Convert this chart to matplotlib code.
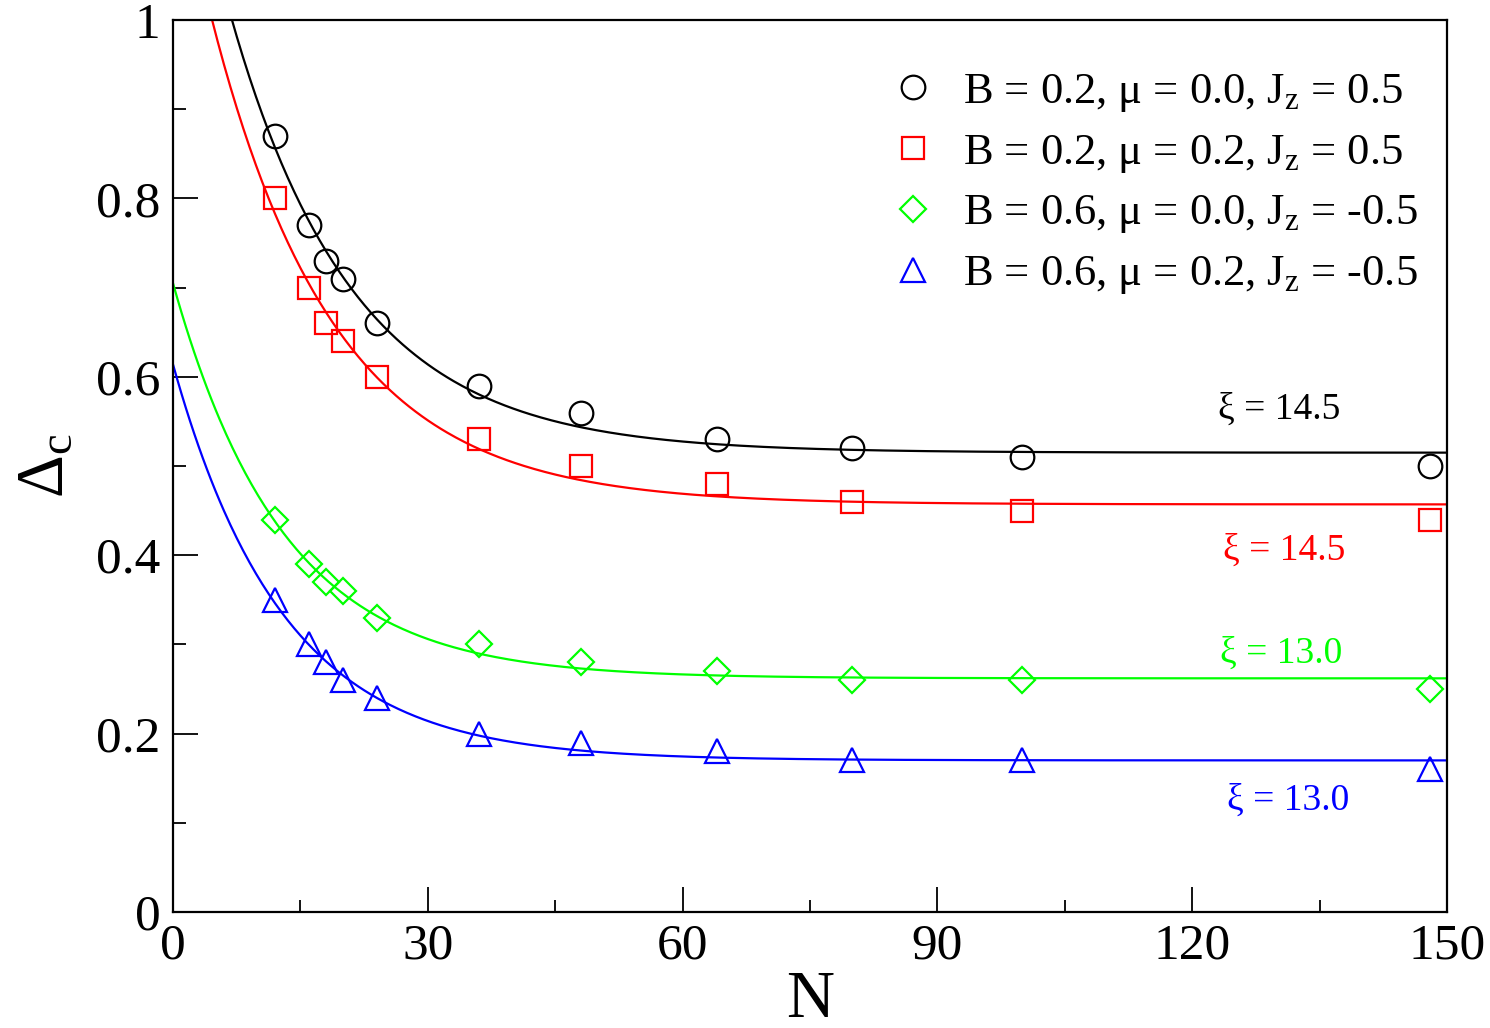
import numpy as np
import matplotlib
matplotlib.use('Agg')
import matplotlib.pyplot as plt
import matplotlib.ticker as tkr

#----------------------- datos -----------------------------------
N = [12, 16, 18, 20, 24, 36, 48, 64, 80, 100, 148]

gap_b02_mu00 = [0.87, 0.77, 0.73, 0.71, 0.66, 0.59, 0.56, 0.53, 0.52, 0.51, 0.50]
gap_b02_mu02 = [0.80, 0.70, 0.66, 0.64, 0.60, 0.53, 0.50, 0.48, 0.46, 0.45, 0.44]
gap_b06_mu00 = [0.44, 0.39, 0.37, 0.36, 0.33, 0.30, 0.28, 0.27, 0.26, 0.26, 0.25]
gap_b06_mu02 = [0.35, 0.30, 0.28, 0.26, 0.24, 0.20, 0.19, 0.18, 0.17, 0.17, 0.16]

# ajuste exponencial: delta_inf + A*exp(-N/xi)
delta_inf = [0.515, 0.457, 0.262, 0.170]
amplitud = [0.783, 0.746, 0.443, 0.444]
xi = [14.5, 14.5, 13.0, 13.0]

etiquetas = [r'B = 0.2, μ = 0.0, J$_\mathregular{z}$ = 0.5',
             r'B = 0.2, μ = 0.2, J$_\mathregular{z}$ = 0.5',
             r'B = 0.6, μ = 0.0, J$_\mathregular{z}$ = -0.5',
             r'B = 0.6, μ = 0.2, J$_\mathregular{z}$ = -0.5']

#----------------------- estilo -----------------------------------
plt.rcParams['font.family'] = 'Liberation Serif'
plt.rcParams['mathtext.fontset'] = 'custom'
plt.rcParams['mathtext.rm'] = 'Liberation Serif'
plt.rcParams['mathtext.it'] = 'Liberation Serif'

colores = ['black', '#ff0000', '#00ff00', '#0000ff']
marcadores = ['o', 's', 'D', '^']
msizes = [17, 16.5, 13, 17]
pos_xi = [(130.3, 0.563), (130.8, 0.405), (130.5, 0.290), (131.3, 0.125)]

fig = plt.figure(figsize=(14.9, 10.28), dpi=100)
ax = fig.add_axes([0.1161, 0.1128, 0.855, 0.8677])

x_fit = np.linspace(0, 150, 600)
datos = [gap_b02_mu00, gap_b02_mu02, gap_b06_mu00, gap_b06_mu02]
for k in range(4):
    y_fit = delta_inf[k] + amplitud[k] * np.exp(-x_fit / xi[k])
    ax.plot(x_fit, y_fit, '-', color=colores[k], lw=1.6)
    ax.plot(N, datos[k], linestyle='none', marker=marcadores[k], ms=msizes[k],
            markerfacecolor='none', markeredgecolor=colores[k], mew=1.6,
            label=etiquetas[k], clip_on=False)
    ax.text(pos_xi[k][0], pos_xi[k][1], 'ξ = %.1f' % xi[k], color=colores[k],
            fontsize=27, ha='center', va='center')

ax.set_xlim(0, 150)
ax.set_ylim(0, 1)
ax.xaxis.set_major_locator(tkr.MultipleLocator(30))
ax.xaxis.set_minor_locator(tkr.MultipleLocator(15))
ax.yaxis.set_major_locator(tkr.MultipleLocator(0.2))
ax.yaxis.set_minor_locator(tkr.MultipleLocator(0.1))
ax.yaxis.set_major_formatter(tkr.FuncFormatter(lambda v, p: '%g' % round(v, 1)))
ax.tick_params(which='both', direction='in', width=1.3, labelsize=37)
ax.tick_params(which='major', length=18)
ax.tick_params(which='minor', length=9)
ax.tick_params(axis='x', pad=8)
ax.tick_params(axis='y', pad=9)
for s in ax.spines.values():
    s.set_linewidth(1.6)

ax.set_xlabel('N', fontsize=48, labelpad=0)
ax.set_ylabel(r'$\mathregular{\Delta_c}$', fontsize=48, labelpad=14)

ax.legend(loc='upper left', bbox_to_anchor=(0.5636, 0.942), frameon=False,
          fontsize=32, handlelength=1.0, handletextpad=0.62, labelspacing=0.42,
          borderpad=0, borderaxespad=0)

plt.savefig('out.png', dpi=100)
